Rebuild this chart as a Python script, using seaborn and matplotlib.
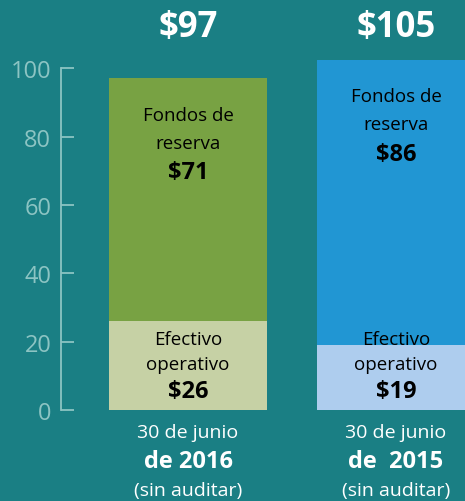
import matplotlib
matplotlib.use("Agg")
import matplotlib.pyplot as plt
import seaborn as sns
import pandas as pd

# ---- data ----
categories = ["30 de junio\nde 2016", "30 de junio\nde 2015"]
date_line = ["30 de junio", "30 de junio"]
year_line = ["de 2016", "de  2015"]
note_line = ["(sin auditar)", "(sin auditar)"]
reserve = [71, 86]
operating = [26, 19]
totals = [97, 105]
total_labels = ["$97", "$105"]
reserve_labels = ["$71", "$86"]
operating_labels = ["$26", "$19"]
yticks = [0, 20, 40, 60, 80, 100]

# ---- style ----
bg = "#1a7f84"
dark_cols = ["#78a243", "#2196d3"]
light_cols = ["#c6d1a5", "#aecdee"]
axis_col = "#8cc4c3"

sns.set_theme(style="white")
plt.rcParams["font.family"] = ["Open Sans", "DejaVu Sans"]

fig = plt.figure(figsize=(4.65, 5.02), dpi=100, facecolor=bg)
ax = fig.add_axes([61/465, 91/502, 1 - 61/465, (411 - 61)/502])
ax.set_facecolor(bg)

df = pd.DataFrame({"cat": categories, "total": totals, "op": operating})
sns.barplot(data=df, x="cat", y="total", hue="cat", palette=dark_cols,
            width=0.76, legend=False, ax=ax, saturation=1, linewidth=0)
sns.barplot(data=df, x="cat", y="op", hue="cat", palette=light_cols,
            width=0.76, legend=False, ax=ax, saturation=1, linewidth=0)

ymax = 102.4
ax.set_ylim(0, ymax)
ax.set_xlim(-0.611, 1.332)
ax.set_xlabel("")
ax.set_ylabel("")
ax.set_xticks([])
ax.set_yticks(yticks)
ax.set_yticklabels([str(t) for t in yticks])
for s in ["top", "right", "bottom"]:
    ax.spines[s].set_visible(False)
ax.spines["left"].set_color(axis_col)
ax.spines["left"].set_linewidth(1.3)
ax.spines["left"].set_bounds(0, 100)
ax.tick_params(axis="y", direction="in", length=9.5, width=1.3, color=axis_col,
               labelcolor=axis_col, labelsize=17, pad=7, left=True)

for i in range(2):
    top = min(totals[i], ymax)
    ax.text(i, 112, total_labels[i], ha="center", va="center", color="white",
            fontsize=25, fontweight="bold", clip_on=False)
    ax.text(i, top - 10.6, "Fondos de", ha="center", va="center", color="black", fontsize=13.5)
    ax.text(i, top - 18.8, "reserva", ha="center", va="center", color="black", fontsize=13.5)
    ax.text(i, top - 27.4, reserve_labels[i], ha="center", va="center", color="black",
            fontsize=17, fontweight="bold")
    ax.text(i, 20.8, "Efectivo", ha="center", va="center", color="black", fontsize=13.5)
    ax.text(i, 13.6, "operativo", ha="center", va="center", color="black", fontsize=13.5)
    ax.text(i, 5.6, operating_labels[i], ha="center", va="center", color="black",
            fontsize=17, fontweight="bold")
    ax.text(i, -6.3, date_line[i], ha="center", va="center", color="white",
            fontsize=14, clip_on=False)
    ax.text(i, -14.8, year_line[i], ha="center", va="center", color="white",
            fontsize=17, fontweight="bold", clip_on=False)
    ax.text(i, -23.5, note_line[i], ha="center", va="center", color="white",
            fontsize=14, clip_on=False)

fig.savefig("out.png", dpi=100, facecolor=bg)
